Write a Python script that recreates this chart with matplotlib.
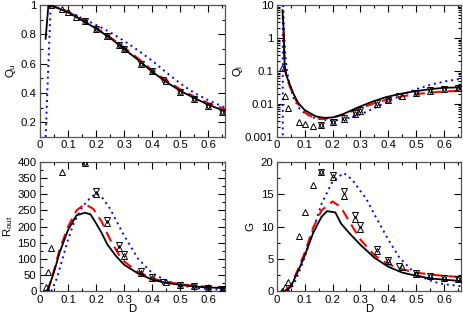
import numpy as np
import matplotlib
matplotlib.use('Agg')
import matplotlib.pyplot as plt
from matplotlib.ticker import MultipleLocator, LogLocator, NullFormatter

plt.rcParams['font.family'] = ['Liberation Sans', 'DejaVu Sans']
plt.rcParams['mathtext.default'] = 'regular'
plt.rcParams['font.size'] = 8.2

# ---- model curves ----
# Q_u
qu_bk_x = [0.02, 0.03, 0.05, 0.1, 0.15, 0.2, 0.25, 0.3, 0.35, 0.4, 0.45, 0.5, 0.55, 0.6, 0.66]
qu_bk_y = [0.77, 1.0, 0.99, 0.95, 0.895, 0.84, 0.775, 0.70, 0.625, 0.545, 0.475, 0.415, 0.365, 0.32, 0.275]
qu_rd_x = [0.03, 0.05, 0.1, 0.15, 0.2, 0.25, 0.3, 0.35, 0.4, 0.45, 0.5, 0.55, 0.6, 0.66]
qu_rd_y = [1.0, 0.99, 0.955, 0.90, 0.845, 0.78, 0.71, 0.635, 0.555, 0.485, 0.425, 0.375, 0.33, 0.29]
qu_bl_x = [0.02, 0.038, 0.05, 0.1, 0.15, 0.2, 0.25, 0.3, 0.35, 0.4, 0.45, 0.5, 0.55, 0.6, 0.66]
qu_bl_y = [0.1, 1.0, 0.99, 0.955, 0.91, 0.865, 0.815, 0.755, 0.69, 0.62, 0.54, 0.465, 0.40, 0.35, 0.30]

# Q_l
ql_bk_x = [0.02, 0.024, 0.028, 0.035, 0.046, 0.06, 0.076, 0.1, 0.14, 0.17, 0.2, 0.235, 0.29, 0.34, 0.39, 0.44, 0.49, 0.55, 0.6, 0.66]
ql_bk_y = [7.0, 2.0, 0.135, 0.07, 0.04, 0.02, 0.011, 0.0065, 0.0042, 0.0038, 0.0039, 0.0048, 0.0078, 0.0115, 0.016, 0.02, 0.024, 0.028, 0.031, 0.032]
ql_rd_x = [0.024, 0.028, 0.035, 0.046, 0.06, 0.076, 0.1, 0.13, 0.16, 0.2, 0.25, 0.3, 0.35, 0.4, 0.45, 0.5, 0.55, 0.6, 0.66]
ql_rd_y = [1.5, 0.12, 0.065, 0.035, 0.018, 0.010, 0.0055, 0.0039, 0.0035, 0.0038, 0.0052, 0.0075, 0.0105, 0.014, 0.017, 0.020, 0.022, 0.024, 0.025]
ql_bl_x = [0.021, 0.0215, 0.025, 0.03, 0.035, 0.045, 0.06, 0.08, 0.1, 0.13, 0.16, 0.2, 0.25, 0.3, 0.35, 0.4, 0.45, 0.5, 0.55, 0.6, 0.66]
ql_bl_y = [0.0005, 30.0, 2.0, 0.35, 0.12, 0.04, 0.015, 0.0075, 0.0052, 0.0039, 0.0034, 0.0031, 0.0036, 0.0048, 0.0075, 0.012, 0.019, 0.028, 0.038, 0.048, 0.058]

# R_out
ro_bk_x = [0.02, 0.03, 0.05, 0.07, 0.1, 0.13, 0.16, 0.18, 0.2, 0.22, 0.24, 0.27, 0.3, 0.35, 0.4, 0.45, 0.5, 0.55, 0.6, 0.66]
ro_bk_y = [0, 8, 60, 120, 190, 235, 243, 238, 210, 180, 145, 110, 82, 55, 36, 26, 20, 15, 12, 10]
ro_rd_x = [0.025, 0.03, 0.05, 0.07, 0.1, 0.13, 0.16, 0.19, 0.22, 0.25, 0.28, 0.3, 0.35, 0.4, 0.45, 0.5, 0.55, 0.6, 0.66]
ro_rd_y = [0, 10, 65, 130, 200, 250, 270, 255, 215, 160, 115, 92, 60, 40, 29, 22, 17, 14, 12]
ro_bl_x = [0.04, 0.06, 0.08, 0.1, 0.12, 0.15, 0.18, 0.2, 0.22, 0.25, 0.28, 0.3, 0.35, 0.4, 0.45, 0.5, 0.55, 0.6, 0.66]
ro_bl_y = [0, 40, 100, 160, 210, 260, 290, 302, 292, 255, 205, 172, 100, 56, 33, 19, 11, 7, 4]

# G
g_bk_x = [0.03, 0.05, 0.08, 0.1, 0.13, 0.16, 0.18, 0.21, 0.23, 0.26, 0.3, 0.35, 0.4, 0.45, 0.5, 0.55, 0.6, 0.66]
g_bk_y = [0, 0.7, 3.5, 5.5, 9.0, 11.5, 12.4, 12.2, 10.5, 9.0, 7.2, 5.2, 3.8, 2.9, 2.4, 2.0, 1.8, 1.6]
g_rd_x = [0.03, 0.05, 0.08, 0.1, 0.13, 0.16, 0.2, 0.23, 0.26, 0.3, 0.35, 0.4, 0.45, 0.5, 0.55, 0.6, 0.66]
g_rd_y = [0.1, 0.9, 3.8, 6.0, 9.8, 12.5, 13.9, 13.0, 10.8, 8.0, 5.6, 4.2, 3.4, 2.9, 2.6, 2.4, 2.2]
g_bl_x = [0.04, 0.06, 0.08, 0.1, 0.13, 0.16, 0.2, 0.24, 0.27, 0.3, 0.32, 0.35, 0.4, 0.44, 0.5, 0.56, 0.6, 0.66]
g_bl_y = [0, 1.0, 3.0, 5.3, 9.5, 13.5, 17.0, 18.3, 17.3, 15.5, 14.4, 11.9, 8.0, 5.2, 2.6, 1.5, 1.1, 0.8]

# ---- simulation points ----
up_x = [0.02, 0.03, 0.04, 0.08, 0.1, 0.13, 0.16, 0.2, 0.24, 0.28, 0.3, 0.36, 0.4, 0.45, 0.5, 0.55, 0.6, 0.65]
up_qu = [np.nan, np.nan, 1.0, 0.97, 0.95, 0.92, 0.89, 0.84, 0.79, 0.73, 0.70, 0.60, 0.55, 0.48, 0.41, 0.36, 0.31, 0.27]
up_ql = [0.12, 0.018, 0.0075, 0.0028, 0.0025, 0.0022, 0.0023, 0.0028, 0.0036, 0.005, 0.006, 0.010, 0.013, 0.017, 0.021, 0.025, 0.029, 0.031]
up_ro = [12, 60, 133, 368, 450, 450, 396, 302, 210, 134, 110, 58, 40, 28, 19, 15, 10, 8]
up_g = [0.1, 0.6, 1.5, 8.6, 12.3, 16.5, 18.4, 17.7, 14.8, 11.2, 9.7, 6.2, 4.7, 3.7, 2.7, 2.3, 2.0, 1.9]

dn_x = [0.16, 0.2, 0.24, 0.28, 0.3, 0.36, 0.4, 0.44, 0.5, 0.55, 0.6, 0.65]
dn_qu = [0.89, 0.84, 0.79, 0.73, 0.70, 0.60, 0.55, 0.49, 0.41, 0.36, 0.31, 0.27]
dn_ql = [0.0023, 0.0029, 0.0038, 0.0053, 0.0065, 0.0105, 0.0135, 0.0175, 0.022, 0.026, 0.029, 0.031]
dn_ro = [396, 310, 220, 142, 116, 62, 43, 30, 21, 15, 10, 8]
dn_g = [18.4, 18.0, 15.5, 11.8, 10.2, 6.5, 4.9, 3.9, 2.9, 2.3, 2.0, 1.9]

fig = plt.figure(figsize=(4.63, 3.17), dpi=100)
ax1 = fig.add_axes([0.0864, 0.568, 0.400, 0.416])
ax2 = fig.add_axes([0.598, 0.568, 0.397, 0.416])
ax3 = fig.add_axes([0.0864, 0.081, 0.400, 0.408])
ax4 = fig.add_axes([0.598, 0.081, 0.397, 0.408])

panels = [
    (ax1, qu_bk_x, qu_bk_y, qu_rd_x, qu_rd_y, qu_bl_x, qu_bl_y, up_qu, dn_qu),
    (ax2, ql_bk_x, ql_bk_y, ql_rd_x, ql_rd_y, ql_bl_x, ql_bl_y, up_ql, dn_ql),
    (ax3, ro_bk_x, ro_bk_y, ro_rd_x, ro_rd_y, ro_bl_x, ro_bl_y, up_ro, dn_ro),
    (ax4, g_bk_x, g_bk_y, g_rd_x, g_rd_y, g_bl_x, g_bl_y, up_g, dn_g),
]

for ax, bx, by, rx, ry, lx, ly, uy, dy in panels:
    ax.plot(lx, ly, color='#0000ff', ls=(0, (1, 2)), lw=1.4, zorder=2)
    ax.plot(rx, ry, color='#ff0000', ls=(0, (5, 3)), lw=1.5, zorder=3)
    ax.plot(bx, by, color='black', lw=1.3, zorder=4)
    ax.plot(up_x, uy, ls='none', marker='^', ms=5, mfc='none', mec='black', mew=0.7, zorder=5)
    ax.plot(dn_x, dy, ls='none', marker='v', ms=5, mfc='none', mec='black', mew=0.7, zorder=5)
    ax.set_xlim(0, 0.66)
    ax.xaxis.set_minor_locator(MultipleLocator(0.05))
    ax.tick_params(which='both', direction='in', top=True, right=True, labelsize=8.2, pad=2.5)
    ax.tick_params(which='major', length=5, width=0.8)
    ax.tick_params(which='minor', length=2.5, width=0.8)
    ax.set_xticks([0, 0.1, 0.2, 0.3, 0.4, 0.5, 0.6])
    ax.set_xticklabels(['0', '0.1', '0.2', '0.3', '0.4', '0.5', '0.6'])
    for s in ax.spines.values():
        s.set_color('#555555')
        s.set_linewidth(0.9)

ax1.set_ylim(0.1, 1.0)
ax1.yaxis.set_minor_locator(MultipleLocator(0.1))
ax1.set_yticks([0.2, 0.4, 0.6, 0.8, 1.0])
ax1.set_yticklabels(['0.2', '0.4', '0.6', '0.8', '1'])
ax1.set_ylabel('Q$_u$', labelpad=2)

ax2.set_yscale('log')
ax2.set_ylim(0.001, 10)
ax2.yaxis.set_minor_locator(LogLocator(base=10, subs=np.arange(2, 10), numticks=10))
ax2.yaxis.set_minor_formatter(NullFormatter())
ax2.set_yticks([0.001, 0.01, 0.1, 1, 10])
ax2.set_yticklabels(['0.001', '0.01', '0.1', '1', '10'])
ax2.set_ylabel('Q$_l$', labelpad=0)

ax3.set_ylim(0, 400)
ax3.yaxis.set_major_locator(MultipleLocator(50))
ax3.yaxis.set_minor_locator(MultipleLocator(25))
ax3.set_ylabel('R$_{out}$', labelpad=2)
ax3.set_xlabel('D', labelpad=-0.5)

ax4.set_ylim(0, 20)
ax4.yaxis.set_major_locator(MultipleLocator(5))
ax4.yaxis.set_minor_locator(MultipleLocator(2.5))
ax4.set_ylabel('G', labelpad=4)
ax4.set_xlabel('D', labelpad=-0.5)

fig.savefig('out.png', dpi=100)
